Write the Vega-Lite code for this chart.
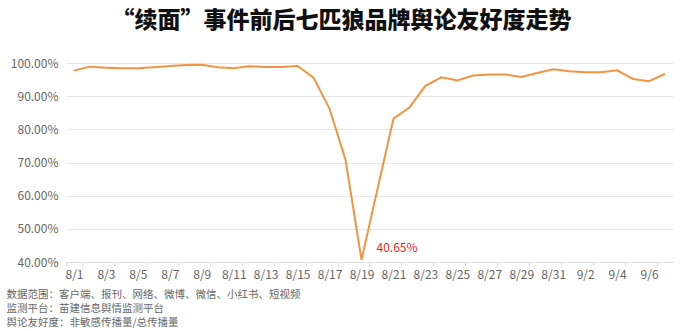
{
  "$schema": "https://vega.github.io/schema/vega-lite/v6.json",
  "width": 607,
  "height": 199,
  "autosize": {"type": "none"},
  "padding": {"left": 66, "top": 63, "right": 17, "bottom": 69},
  "background": "white",
  "config": {
    "font": "Noto Sans CJK SC",
    "view": {"stroke": null}
  },
  "title": {
    "text": "“续面”事件前后七匹狼品牌舆论友好度走势",
    "fontSize": 23,
    "fontWeight": 900,
    "color": "#111111",
    "anchor": "middle",
    "dx": -28,
    "offset": 24
  },
  "data": {
    "values": [
      {"date": "8/1", "v": 0.977},
      {"date": "8/2", "v": 0.989},
      {"date": "8/3", "v": 0.986},
      {"date": "8/4", "v": 0.984},
      {"date": "8/5", "v": 0.984},
      {"date": "8/6", "v": 0.987},
      {"date": "8/7", "v": 0.991},
      {"date": "8/8", "v": 0.994},
      {"date": "8/9", "v": 0.995},
      {"date": "8/10", "v": 0.987},
      {"date": "8/11", "v": 0.984},
      {"date": "8/12", "v": 0.990},
      {"date": "8/13", "v": 0.988},
      {"date": "8/14", "v": 0.988},
      {"date": "8/15", "v": 0.991},
      {"date": "8/16", "v": 0.956},
      {"date": "8/17", "v": 0.862},
      {"date": "8/18", "v": 0.708},
      {"date": "8/19", "v": 0.4065, "label": "40.65%"},
      {"date": "8/20", "v": 0.620},
      {"date": "8/21", "v": 0.832},
      {"date": "8/22", "v": 0.866},
      {"date": "8/23", "v": 0.931},
      {"date": "8/24", "v": 0.957},
      {"date": "8/25", "v": 0.947},
      {"date": "8/26", "v": 0.962},
      {"date": "8/27", "v": 0.965},
      {"date": "8/28", "v": 0.965},
      {"date": "8/29", "v": 0.958},
      {"date": "8/30", "v": 0.970},
      {"date": "8/31", "v": 0.981},
      {"date": "9/1", "v": 0.975},
      {"date": "9/2", "v": 0.972},
      {"date": "9/3", "v": 0.972},
      {"date": "9/4", "v": 0.978},
      {"date": "9/5", "v": 0.952},
      {"date": "9/6", "v": 0.945},
      {"date": "9/7", "v": 0.967}
    ]
  },
  "encoding": {
    "x": {
      "field": "date",
      "type": "ordinal",
      "sort": null,
      "scale": {"type": "band", "paddingInner": 0, "paddingOuter": 0},
      "bandPosition": 0.5,
      "axis": {
        "values": ["8/1","8/3","8/5","8/7","8/9","8/11","8/13","8/15","8/17","8/19","8/21","8/23","8/25","8/27","8/29","8/31","9/2","9/4","9/6"],
        "labelAngle": 0,
        "labelColor": "#666666",
        "labelFontSize": 12,
        "labelPadding": 3,
        "tickBand": "extent",
        "tickColor": "#dddddd",
        "tickSize": 4,
        "domainColor": "#dddddd",
        "grid": false,
        "title": ["数据范围：客户端、报刊、网络、微博、微信、小红书、短视频", "监测平台：苗建信息舆情监测平台", "舆论友好度：非敏感传播量/总传播量"],
        "titleX": -60,
        "titleY": 27,
        "titleAlign": "left",
        "titleAnchor": "start",
        "titleBaseline": "top",
        "titleFontSize": 10.5,
        "titleFontWeight": "normal",
        "titleColor": "#666666",
        "titleLineHeight": 14
      }
    },
    "y": {
      "field": "v",
      "type": "quantitative",
      "scale": {"domain": [0.4, 1.0]},
      "axis": {
        "values": [0.4, 0.5, 0.6, 0.7, 0.8, 0.9, 1.0],
        "format": ".2%",
        "title": null,
        "domain": false,
        "ticks": false,
        "labelColor": "#666666",
        "labelFontSize": 12,
        "labelPadding": 8,
        "gridColor": "#e6e6e6"
      }
    }
  },
  "layer": [
    {
      "mark": {"type": "line", "color": "#f29441", "strokeWidth": 2}
    },
    {
      "transform": [{"filter": "datum.label != null"}],
      "mark": {"type": "text", "color": "#ee1c1c", "fontSize": 12, "align": "left", "dx": 15, "dy": -12},
      "encoding": {"text": {"field": "label"}}
    }
  ]
}
